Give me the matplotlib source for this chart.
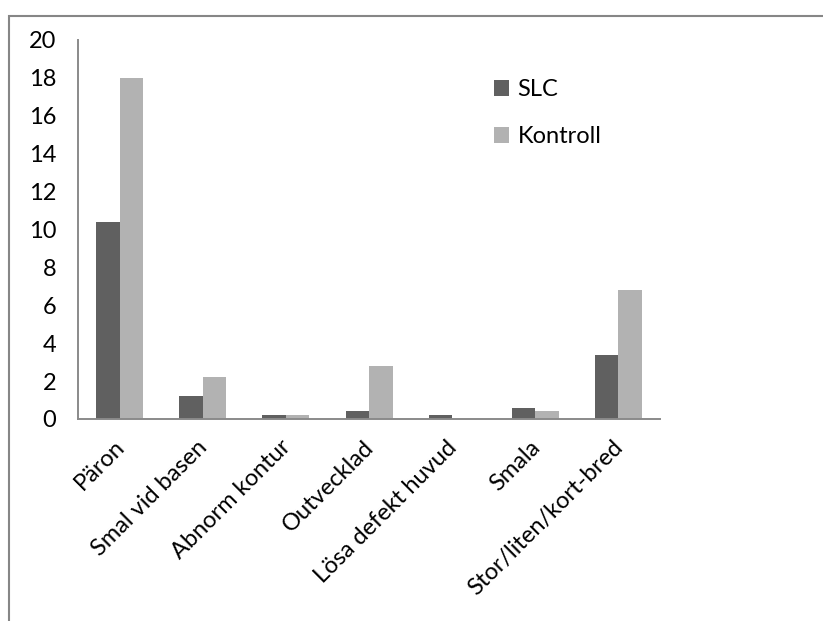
import matplotlib
matplotlib.use("Agg")
import matplotlib.pyplot as plt
import matplotlib.patches as mpatches
import matplotlib.transforms as mtransforms
import numpy as np

# morphology categories and counts per group
categories = ["Päron", "Smal vid basen", "Abnorm kontur", "Outvecklad",
              "Lösa defekt huvud", "Smala", "Stor/liten/kort-bred"]
slc = [10.4, 1.2, 0.2, 0.4, 0.2, 0.6, 3.4]
kontroll = [18, 2.2, 0.2, 2.8, 0, 0.4, 6.8]
y_ticks = [0, 2, 4, 6, 8, 10, 12, 14, 16, 18, 20]

plt.rcParams["font.family"] = ["Lato", "DejaVu Sans"]
FS = 17

fig = plt.figure(figsize=(8.23, 6.21), dpi=100)
ax = fig.add_axes([0.0948, 0.3253, 0.7072, 0.6103])

x = np.arange(len(categories))
w = 0.283
ax.bar(x - w / 2, slc, w, color="#606060", label="SLC")
ax.bar(x + w / 2, kontroll, w, color="#b2b2b2", label="Kontroll")

ax.set_xlim(-0.5, len(categories) - 0.5)
ax.set_ylim(0, 20)
ax.set_yticks(y_ticks)
ax.set_yticklabels([str(v) for v in y_ticks], fontsize=FS)
ax.set_xticks(x)
ax.set_xticklabels(categories, fontsize=FS, rotation=45, ha="right",
                   rotation_mode="anchor")
ax.tick_params(axis="y", length=0, pad=15.5)
ax.tick_params(axis="x", length=0, pad=14)

# nudge the slanted category names a little to the left
shift = mtransforms.ScaledTranslation(-6 / 100, 2 / 100, fig.dpi_scale_trans)
for lbl in ax.get_xticklabels():
    lbl.set_transform(lbl.get_transform() + shift)

for side in ["top", "right"]:
    ax.spines[side].set_visible(False)
for side in ["left", "bottom"]:
    ax.spines[side].set_color("#8a8a8a")
    ax.spines[side].set_linewidth(1.4)

ax.legend(loc="upper left", bbox_to_anchor=(494 / 823, 1 - 79 / 621),
          bbox_transform=fig.transFigure, frameon=False, fontsize=FS,
          handlelength=0.65, handleheight=0.65, handletextpad=0.35,
          labelspacing=1.1, borderpad=0, borderaxespad=0)

# outer chart frame, running off the right and bottom edges
frame = mpatches.Rectangle((9 / 823, -0.1), 1.2, 1 - 16 / 621 + 0.1,
                           transform=fig.transFigure, fill=False,
                           edgecolor="#868686", linewidth=1.5)
fig.patches.append(frame)

fig.savefig("out.png", dpi=100)
